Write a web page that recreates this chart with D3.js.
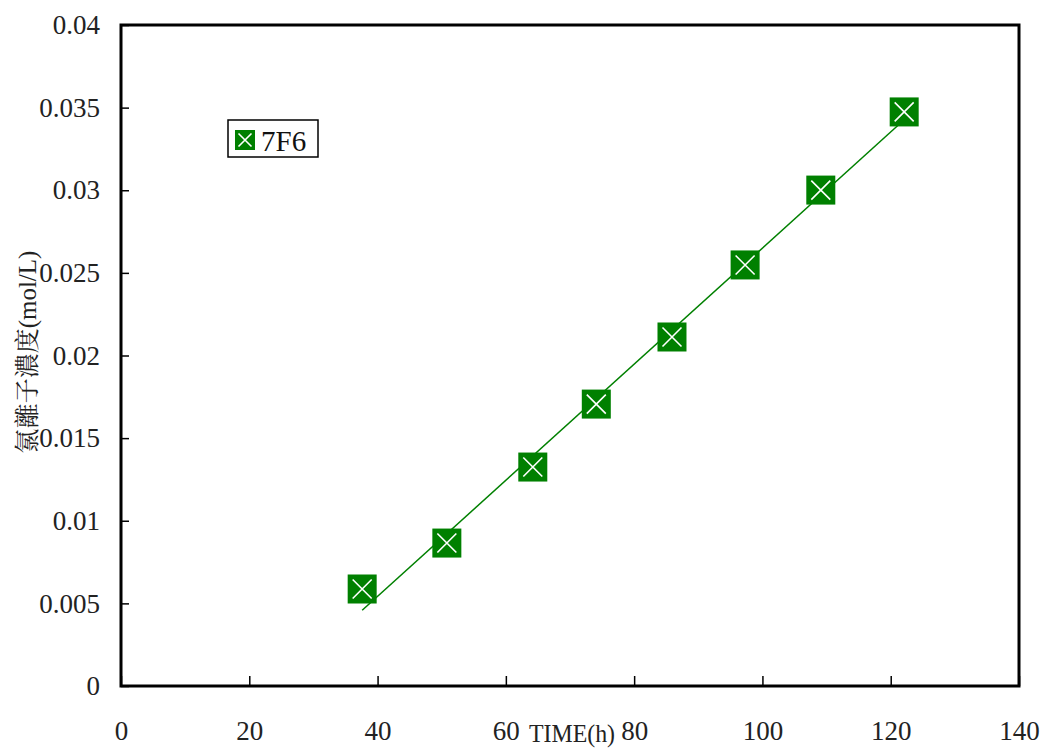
<!DOCTYPE html>
<html><head><meta charset="utf-8">
<script src="https://cdn.jsdelivr.net/npm/d3@7"></script>
<style>
body{margin:0;background:#fff}
text{font-family:"Liberation Serif","Times New Roman",Times,"Noto Serif CJK TC","Noto Sans CJK TC",serif}
</style>
</head><body>
<svg id="c" width="1042" height="749"></svg>
<script>
const seriesName = "7F6";
const timeH = [37.6, 50.8, 64.2, 74.1, 85.9, 97.3, 109.1, 122.1];
const chloride = [0.00587, 0.00865, 0.01325, 0.01706, 0.02112, 0.02548, 0.03001, 0.03474];
const xTicks = [0, 20, 40, 60, 80, 100, 120, 140];
const yTicks = [0, 0.005, 0.01, 0.015, 0.02, 0.025, 0.03, 0.035, 0.04];
const yTickLabels = ["0", "0.005", "0.01", "0.015", "0.02", "0.025", "0.03", "0.035", "0.04"];

const svg = d3.select("#c");
const L = 121, R = 1019, T = 25, B = 686;
const x = d3.scaleLinear().domain([0, 140]).range([L, R]);
const y = d3.scaleLinear().domain([0, 0.04]).range([B, T]);
const green = "#008000";

svg.append("rect").attr("x", L).attr("y", T).attr("width", R - L).attr("height", B - T)
  .attr("fill", "none").attr("stroke", "#000").attr("stroke-width", 3);

const yAx = svg.append("g").attr("transform", `translate(${L},0)`)
  .call(d3.axisLeft(y).tickValues(yTicks).tickSize(-8).tickPadding(21)
    .tickFormat((d, i) => yTickLabels[i]));
yAx.select(".domain").remove();
yAx.selectAll("line").attr("stroke", "#000").attr("stroke-width", 1.5);
yAx.selectAll("text").attr("font-size", 27).attr("fill", "#222");

const xAx = svg.append("g").attr("transform", `translate(0,${B})`)
  .call(d3.axisBottom(x).tickValues(xTicks).tickSize(-10).tickPadding(35)
    .tickFormat(d3.format("d")));
xAx.select(".domain").remove();
xAx.selectAll("line").attr("stroke", "#000").attr("stroke-width", 1.5);
xAx.selectAll("text").attr("font-size", 27).attr("fill", "#222");
yAx.attr("font-family", null); xAx.attr("font-family", null);

svg.append("text").attr("x", 529).attr("y", 742)
  .attr("font-size", 25).attr("textLength", 86).attr("lengthAdjust", "spacingAndGlyphs")
  .attr("fill", "#222").text("TIME(h)");
svg.append("text").attr("transform", "translate(36,352) rotate(-90)").attr("text-anchor", "middle")
  .attr("font-size", 25).attr("fill", "#222")
  .text("氯離子濃度(mol/L)");

const n = timeH.length;
const mx = d3.mean(timeH), my = d3.mean(chloride);
let sxy = 0, sxx = 0;
for (let i = 0; i < n; i++) { sxy += (timeH[i] - mx) * (chloride[i] - my); sxx += (timeH[i] - mx) ** 2; }
const slope = sxy / sxx, icpt = my - slope * mx;
const x0 = d3.min(timeH), x1 = d3.max(timeH);
svg.append("line").attr("x1", x(x0)).attr("y1", y(icpt + slope * x0))
  .attr("x2", x(x1)).attr("y2", y(icpt + slope * x1))
  .attr("stroke", green).attr("stroke-width", 1.5);

function marker(g, cx, cy, s, pad) {
  const h = s / 2;
  g.append("rect").attr("x", cx - h).attr("y", cy - h).attr("width", s).attr("height", s).attr("fill", green);
  const a = h - pad;
  g.append("path").attr("d", `M${cx - a},${cy - a}L${cx + a},${cy + a}M${cx + a},${cy - a}L${cx - a},${cy + a}`)
    .attr("stroke", "#fff").attr("stroke-width", 1.6);
}
const mg = svg.append("g");
timeH.forEach((t, i) => marker(mg, x(t), y(chloride[i]), 29, 5));

svg.append("rect").attr("x", 228).attr("y", 120).attr("width", 90).attr("height", 37)
  .attr("fill", "#fff").attr("stroke", "#000").attr("stroke-width", 1.5);
marker(svg.append("g"), 245, 140, 20, 3.5);
svg.append("text").attr("x", 261).attr("y", 151).attr("font-size", 29)
  .attr("fill", "#111").text(seriesName);
</script>
</body></html>
